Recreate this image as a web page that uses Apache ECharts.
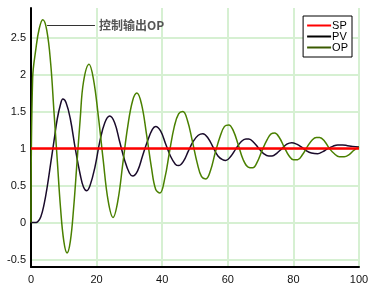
<!DOCTYPE html>
<html>
<head>
<meta charset="utf-8">
<script src="https://cdn.jsdelivr.net/npm/echarts@6/dist/echarts.min.js"></script>
<style>html,body{margin:0;padding:0;background:#fff}#c{width:380px;height:289px}</style>
</head>
<body>
<div id="c"></div>
<script>
const seriesNames = ['SP', 'PV', 'OP'];
const yTicks = [-0.5, 0, 0.5, 1, 1.5, 2, 2.5];
const xTicks = [0, 20, 40, 60, 80, 100];
const spData = [[0, 1], [100, 1]];
const pvData = [[0,0],[1,0],[2,0.01],[3,0.08],[4,0.25],[5,0.5],[6,0.8],[7,1.1],[8,1.4],[9,1.6],[9.7,1.67],[10.7,1.62],[12,1.4],[13.5,1.0],[15,0.65],[16,0.48],[17,0.43],[18,0.5],[19.5,0.75],[21,1.1],[22.5,1.35],[24,1.44],[25.5,1.35],[27,1.1],[28.5,0.85],[30,0.67],[31,0.63],[32.5,0.7],[34,0.9],[35.5,1.1],[37,1.26],[38,1.3],[39.5,1.24],[41,1.07],[42.5,0.9],[44,0.79],[45,0.77],[46.5,0.83],[48,0.97],[49.5,1.1],[51,1.18],[52.4,1.2],[54,1.14],[55.5,1.02],[57,0.9],[58.4,0.85],[59.4,0.84],[61,0.9],[62.5,1.0],[64,1.09],[65.5,1.13],[66.4,1.13],[68,1.08],[69.5,1.0],[71,0.93],[72.5,0.9],[73.5,0.9],[75,0.94],[76.5,1.0],[78,1.06],[79.5,1.08],[81,1.06],[82.5,1.02],[84,0.97],[85.5,0.94],[87.4,0.93],[89,0.96],[90.5,1.0],[92,1.03],[93.5,1.05],[95,1.05],[96.5,1.04],[98,1.03],[100,1.02]];
const opData = [[0,0],[0.5,1.95],[1.5,2.35],[2.5,2.62],[3.6,2.74],[4.8,2.6],[6,2.15],[7,1.5],[8,0.85],[9,0.2],[10,-0.25],[11,-0.41],[12,-0.25],[13,0.2],[14,0.8],[15,1.4],[16,1.9],[17.7,2.14],[19,1.95],[20.5,1.45],[22,0.85],[23.5,0.3],[25,0.07],[26.5,0.3],[28,0.8],[29.5,1.3],[31,1.65],[32.3,1.75],[33.7,1.6],[35.2,1.2],[36.7,0.75],[38,0.45],[39.3,0.4],[40.8,0.6],[42.2,0.95],[43.7,1.3],[45,1.47],[46.3,1.5],[47.7,1.38],[49.2,1.1],[50.7,0.8],[52,0.62],[53.3,0.59],[54.7,0.7],[56.2,0.95],[57.7,1.17],[59,1.3],[60.3,1.32],[61.7,1.24],[63.2,1.05],[64.7,0.85],[66.2,0.75],[67.6,0.74],[69,0.82],[70.5,0.98],[72,1.12],[73.2,1.2],[74.3,1.21],[75.7,1.15],[77.2,1.02],[78.7,0.9],[80,0.85],[81.3,0.85],[82.8,0.92],[84.3,1.03],[85.8,1.12],[87,1.15],[88,1.15],[89.5,1.1],[91,1.0],[92.5,0.93],[94,0.89],[95.5,0.89],[97,0.92],[98.5,0.98],[100,1.02]];
const annoText = '控制输出OP';
const annoLine = [[4.9, 2.67], [19.5, 2.67]];

const chart = echarts.init(document.getElementById('c'), null, {renderer: 'canvas'});
const gridColor = '#d6f0d2';
chart.setOption({
  animation: false,
  backgroundColor: '#fff',
  textStyle: {fontFamily: 'Liberation Sans, Arial, sans-serif'},
  grid: {left: 31, right: 21, top: 8, bottom: 22, containLabel: false},
  legend: {
    data: seriesNames,
    orient: 'vertical',
    right: 28, top: 16,
    backgroundColor: '#fff',
    borderColor: '#000', borderWidth: 1,
    padding: [4, 4, 4, 4],
    itemWidth: 24, itemHeight: 2, itemGap: 0,
    icon: 'rect',
    textStyle: {fontSize: 11, color: '#000', padding: [0, 0, 0, -4], lineHeight: 11},
    selectedMode: false
  },
  xAxis: {
    type: 'value', min: 0, max: 100, interval: 20,
    axisLine: {onZero: false, lineStyle: {color: '#000', width: 2}},
    axisTick: {show: false},
    axisLabel: {color: '#111', fontSize: 11, margin: 7},
    splitLine: {show: true, lineStyle: {color: gridColor, width: 2}}
  },
  yAxis: {
    type: 'value', min: -0.6, max: 2.9,
    axisLine: {show: true, onZero: false, lineStyle: {color: '#000', width: 2}},
    axisTick: {show: false, customValues: yTicks},
    axisLabel: {color: '#111', fontSize: 11, margin: 5, customValues: yTicks},
    splitLine: {show: true, lineStyle: {color: gridColor, width: 2}}
  },
  series: [
    {name: 'SP', type: 'line', data: spData, symbol: 'none', z: 5,
     lineStyle: {color: '#ff0000', width: 2.5}, itemStyle: {color: '#ff0000'}},
    {name: 'PV', type: 'line', data: pvData, symbol: 'none', smooth: 0.4, z: 3,
     lineStyle: {color: '#1a0b2b', width: 1.5}, itemStyle: {color: '#000'}},
    {name: 'OP', type: 'line', data: opData, symbol: 'none', smooth: 0.4, z: 4,
     lineStyle: {color: '#4a8000', width: 1.5}, itemStyle: {color: '#3a5a00'},
     markLine: {
       silent: true, symbol: 'none', animation: false,
       lineStyle: {color: '#333', width: 1, type: 'solid'},
       label: {show: true, position: 'end', formatter: annoText, color: '#555', fontSize: 12, fontWeight: 'bold', distance: 4,
               fontFamily: 'Noto Sans CJK SC, sans-serif'},
       data: [[{coord: annoLine[0]}, {coord: annoLine[1]}]]
     }}
  ]
});
</script>
</body>
</html>
